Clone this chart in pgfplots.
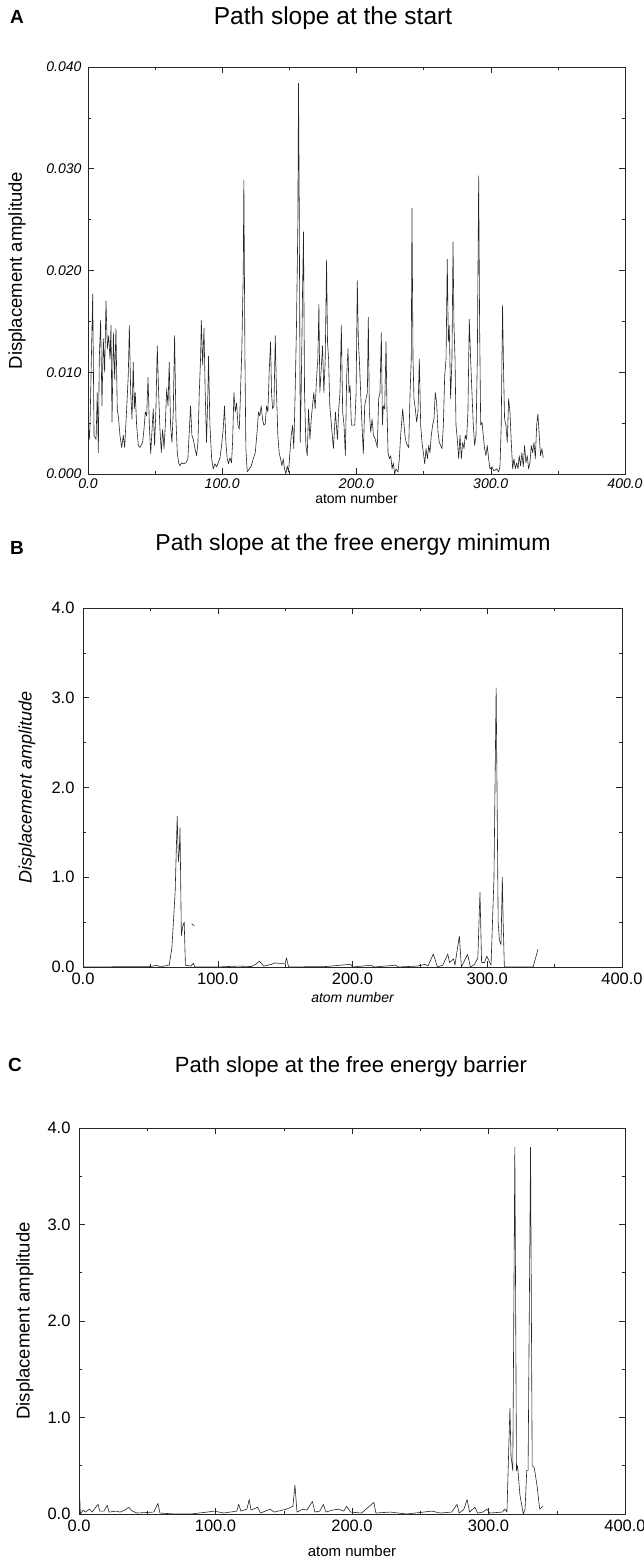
\documentclass[border=0pt]{standalone}
\usepackage{fontspec}
\setmainfont{Liberation Sans}
\usepackage{pgfplots}
\pgfplotsset{compat=1.18}
\pgfplotsset{
  panel/.style={
    scale only axis, anchor=south west,
    xmin=0, xmax=400, xtick={0,100,200,300,400}, minor x tick num=1,
    minor y tick num=1,
    axis line style={black!85, line width=0.6pt},
    every tick/.style={black!85, line width=0.5pt},
    major tick length=6pt, minor tick length=3pt,
    /pgf/number format/assume math mode=true,
    scaled y ticks=false, scaled x ticks=false,
    xticklabel style={/pgf/number format/.cd, fixed, fixed zerofill, precision=1, 1000 sep={}},
  },
  trace/.style={black!85, line width=0.6pt, mark=none, line join=round},
}
\begin{document}
\begin{tikzpicture}
\path[use as bounding box] (0pt,0pt) rectangle (644pt,1562pt);
% ---------------- Panel A ----------------
\node[font=\bfseries\fontsize{19}{19}\selectfont] at (17pt,1545pt) {A};
\node[font=\fontsize{24.5}{24.5}\selectfont] at (333pt,1544pt) {Path slope at the start};
\begin{axis}[panel, at={(88pt,1088pt)}, width=537pt, height=407pt,
  ymin=0, ymax=0.04, ytick={0,0.01,0.02,0.03,0.04},
  yticklabel style={/pgf/number format/.cd, fixed, fixed zerofill, precision=3},
  ticklabel style={font=\fontsize{14}{14}\selectfont\itshape},
  yticklabel style={/tikz/xshift=-3pt}, xticklabel style={/tikz/yshift=-1pt},
  xlabel={atom number}, ylabel={Displacement amplitude},
  xlabel style={font=\fontsize{14}{14}\selectfont, at={(axis description cs:0.5,-0.061)}, anchor=center},
  ylabel style={font=\fontsize{18.5}{18.5}\selectfont, at={(axis description cs:-0.132,0.5)}, anchor=center},
]
\addplot[trace] coordinates {
(0,0.0052)(1,0.0034)(1.5,0.0048)(3.5,0.0177)(4.5,0.0038)(6.0,0.0034)(6.9,0.0080)(7.7,0.0021)
(8.4,0.0113)(9.4,0.0151)(10.4,0.0067)(11.4,0.0133)(12.4,0.0100)(13.4,0.0170)(14.4,0.0123)
(15.4,0.0136)(16.4,0.0113)(17.1,0.0146)(17.9,0.0051)(18.9,0.0139)(19.9,0.0093)(20.8,0.0143)
(21.8,0.0064)(22.8,0.0054)(23.8,0.0038)(25.1,0.0026)(26.3,0.0038)(27.3,0.0026)(28.8,0.0064)
(30.0,0.0097)(30.8,0.0146)(31.8,0.0080)(32.8,0.0054)(33.7,0.0110)(34.5,0.0064)(35.2,0.0080)
(36.2,0.0048)(37.5,0.0028)(38.7,0.0026)(40.7,0.0031)(41.7,0.0044)(42.7,0.0061)(43.7,0.0057)
(44.7,0.0095)(45.7,0.0048)(46.7,0.0020)(47.6,0.0041)(48.6,0.0064)(49.6,0.0028)(50.6,0.0064)
(51.6,0.0126)(52.6,0.0080)(53.6,0.0044)(54.6,0.0021)(55.6,0.0044)(56.6,0.0025)(57.6,0.0048)
(58.6,0.0084)(59.6,0.0067)(60.5,0.0110)(61.5,0.0048)(62.5,0.0031)(63.5,0.0061)(64.5,0.0136)
(65.5,0.0054)(66.5,0.0021)(67.5,0.0011)(68.5,0.0008)(69.7,0.0011)(71.0,0.0010)(73.0,0.0011)
(74.4,0.0015)(75.4,0.0041)(76.4,0.0067)(77.4,0.0038)(78.4,0.0034)(79.7,0.0025)(80.9,0.0018)
(81.9,0.0031)(82.9,0.0080)(83.9,0.0116)(84.4,0.0151)(85.4,0.0107)(86.4,0.0143)(87.3,0.0080)
(88.3,0.0031)(89.3,0.0080)(89.8,0.0116)(90.8,0.0048)(92.1,0.0015)(93.3,0.0005)(94.5,0.0010)
(95.8,0.0007)(97.0,0.0011)(98.3,0.0016)(99.5,0.0028)(100.7,0.0044)(101.7,0.0067)(102.7,0.0031)
(103.7,0.0015)(104.7,0.0010)(105.7,0.0016)(106.9,0.0011)(107.7,0.0031)(108.7,0.0080)(109.7,0.0061)
(110.7,0.0070)(111.7,0.0048)(112.7,0.0044)(113.6,0.0080)(114.6,0.0123)(115.6,0.0195)(116.1,0.0289)
(116.9,0.0113)(117.6,0.0025)(118.6,0.0002)(120.1,0.0005)(121.6,0.0008)(123.1,0.0015)(124.6,0.0021)
(126.1,0.0044)(127.0,0.0061)(128.0,0.0057)(129.0,0.0067)(130.0,0.0054)(131.0,0.0048)(132.0,0.0049)
(133.0,0.0067)(134.0,0.0061)(135.0,0.0102)(136.0,0.0130)(136.7,0.0080)(137.5,0.0064)(138.5,0.0067)
(139.5,0.0136)(140.4,0.0080)(141.4,0.0038)(142.4,0.0021)(143.4,0.0015)(144.4,0.0008)(145.4,0.0015)
(146.4,0.0005)(147.4,0.0000)(148.4,0.0008)(149.4,0.0002)(150.4,0.0021)(151.4,0.0038)(152.4,0.0048)
(153.3,0.0025)(154.3,0.0080)(155.3,0.0146)(156.3,0.0244)(156.8,0.0384)(157.3,0.0277)(158.1,0.0031)
(158.8,0.0080)(159.8,0.0179)(160.5,0.0238)(161.3,0.0080)(162.3,0.0028)(163.3,0.0018)(164.3,0.0064)
(165.3,0.0034)(166.3,0.0054)(167.2,0.0067)(168.2,0.0080)(169.2,0.0064)(170.2,0.0093)(171.2,0.0113)
(172.0,0.0167)(172.7,0.0080)(173.7,0.0103)(174.7,0.0126)(175.7,0.0080)(176.7,0.0113)(177.7,0.0210)
(178.4,0.0130)(179.2,0.0113)(180.1,0.0067)(182.8,0.0025)(184.3,0.0061)(185.8,0.0034)(186.8,0.0064)
(187.7,0.0080)(188.7,0.0146)(189.7,0.0061)(190.7,0.0048)(191.7,0.0018)(192.7,0.0097)(193.7,0.0123)
(194.4,0.0080)(195.2,0.0087)(196.2,0.0048)(197.7,0.0048)(198.7,0.0048)(199.7,0.0080)(200.6,0.0190)
(201.4,0.0130)(202.1,0.0113)(203.1,0.0080)(204.1,0.0048)(205.1,0.0020)(206.1,0.0067)(207.1,0.0074)
(208.1,0.0080)(208.8,0.0154)(209.6,0.0061)(210.6,0.0041)(211.6,0.0054)(212.6,0.0038)(214.0,0.0034)
(215.5,0.0026)(216.5,0.0074)(217.5,0.0080)(218.5,0.0139)(219.3,0.0048)(220.0,0.0067)(221.0,0.0064)
(222.0,0.0130)(222.7,0.0064)(223.5,0.0021)(224.5,0.0015)(225.5,0.0018)(226.5,0.0005)(227.4,0.0011)
(228.4,0.0000)(229.4,0.0005)(230.9,0.0002)(231.9,0.0015)(232.9,0.0038)(234.4,0.0064)(235.4,0.0048)
(236.4,0.0034)(237.9,0.0028)(238.9,0.0026)(239.9,0.0080)(240.8,0.0113)(241.3,0.0261)(242.1,0.0113)
(242.8,0.0074)(243.8,0.0064)(244.8,0.0051)(245.8,0.0061)(246.8,0.0113)(247.8,0.0048)(248.8,0.0031)
(249.8,0.0021)(250.8,0.0010)(251.8,0.0025)(252.8,0.0015)(253.8,0.0028)(254.7,0.0021)(255.7,0.0038)
(256.7,0.0048)(257.7,0.0054)(258.7,0.0080)(259.7,0.0070)(260.7,0.0041)(261.7,0.0031)(262.7,0.0028)
(263.7,0.0025)(264.7,0.0048)(265.7,0.0097)(266.7,0.0113)(267.6,0.0211)(268.4,0.0130)(269.1,0.0146)
(270.1,0.0074)(271.1,0.0113)(271.9,0.0228)(272.6,0.0146)(273.4,0.0113)(274.1,0.0048)(275.1,0.0034)
(276.1,0.0015)(277.1,0.0038)(278.1,0.0015)(279.1,0.0031)(280.1,0.0025)(281.0,0.0038)(282.0,0.0034)
(283.0,0.0061)(284.0,0.0152)(285.0,0.0113)(286.0,0.0080)(287.0,0.0048)(288.0,0.0028)(289.0,0.0038)
(290.0,0.0113)(291.0,0.0293)(291.7,0.0146)(292.5,0.0048)(293.5,0.0051)(294.4,0.0038)(295.4,0.0025)
(296.4,0.0018)(297.4,0.0028)(298.4,0.0015)(299.4,0.0005)(300.9,0.0007)(302.4,0.0003)(304.4,0.0005)
(305.9,0.0002)(306.9,0.0008)(307.8,0.0048)(308.8,0.0166)(309.6,0.0097)(310.3,0.0054)(311.3,0.0048)
(312.3,0.0031)(313.3,0.0074)(314.3,0.0061)(315.3,0.0031)(316.3,0.0005)(317.3,0.0015)(318.3,0.0005)
(319.3,0.0011)(320.3,0.0005)(321.2,0.0018)(322.2,0.0008)(323.2,0.0021)(324.2,0.0007)(325.2,0.0028)
(326.2,0.0011)(327.2,0.0018)(328.2,0.0005)(329.2,0.0011)(330.2,0.0028)(331.2,0.0021)(332.2,0.0031)
(333.2,0.0015)(334.2,0.0048)(335.1,0.0059)(336.1,0.0038)(337.1,0.0018)(338.1,0.0025)(339.1,0.0016)
};
\end{axis}
% ---------------- Panel B ----------------
\node[font=\bfseries\fontsize{19}{19}\selectfont] at (17pt,1014pt) {B};
\node[font=\fontsize{23}{23}\selectfont] at (353pt,1017pt) {Path slope at the free energy minimum};
\begin{axis}[panel, at={(83pt,595pt)}, width=539pt, height=359pt,
  ymin=0, ymax=4, ytick={0,1,2,3,4},
  yticklabel style={/pgf/number format/.cd, fixed, fixed zerofill, precision=1},
  ticklabel style={font=\fontsize{16.5}{16.5}\selectfont},
  yticklabel style={/tikz/xshift=-5pt}, xticklabel style={/tikz/yshift=-2pt},
  xlabel={atom number}, ylabel={Displacement amplitude},
  xlabel style={font=\fontsize{14}{14}\selectfont\itshape, at={(axis description cs:0.5,-0.084)}, anchor=center},
  ylabel style={font=\fontsize{18}{18}\selectfont\itshape, at={(axis description cs:-0.104,0.5)}, anchor=center},
]
\addplot[trace] coordinates {
(0,0)(50,0.005)(55,0.02)(57,0.0)(60,0.01)(64,0.02)(66,0.22)(68.4,0.84)(69.9,1.68)(70.8,1.17)
(71.5,1.30)(72,1.55)(73,0.35)(74,0.45)(75.1,0.5)(76,0.02)(80,0.01)(82,0.04)(83,0.0)(100,0.0)
(115,0.01)(125,0.005)(128,0.03)(131,0.065)(134,0.01)(140,0.03)(142,0.045)(146,0.04)(150,0.04)
(151,0.1)(152.6,0.0)(180,0.005)(198.6,0.03)(200,0.0)(214,0.02)(216,0.0)(232,0.02)(234,0.0)
(248,0.01)(254,0.03)(256,0.01)(260,0.145)(263,0.0)(267,0.02)(270.7,0.145)(272,0.05)(275,0.09)
(276,0.02)(279.3,0.345)(280.8,0.0)(285.4,0.14)(287.5,0.0)(290.6,0.03)(293,0.1)(294.6,0.83)
(295.8,0.05)(298,0.05)(299.7,0.12)(302.8,0.02)(305,1.0)(306.6,3.11)(308.1,0.5)(309,0.3)
(310.2,0.25)(311.2,1.0)(311.8,0.5)(312.7,0.0)(334,0.0)(337.7,0.2)
};
\addplot[trace] coordinates {(80.6,0.48)(82.6,0.46)};
\end{axis}
% ---------------- Panel C ----------------
\node[font=\bfseries\fontsize{19}{19}\selectfont] at (15pt,497pt) {C};
\node[font=\fontsize{22}{22}\selectfont] at (351pt,495pt) {Path slope at the free energy barrier};
\begin{axis}[panel, at={(79pt,48pt)}, width=546pt, height=386pt,
  ymin=0, ymax=4, ytick={0,1,2,3,4},
  yticklabel style={/pgf/number format/.cd, fixed, fixed zerofill, precision=1},
  ticklabel style={font=\fontsize{16.5}{16.5}\selectfont},
  yticklabel style={/tikz/xshift=-5pt}, xticklabel style={/tikz/yshift=-2pt},
  xlabel={atom number}, ylabel={Displacement amplitude},
  xlabel style={font=\fontsize{15}{15}\selectfont, at={(axis description cs:0.5,-0.096)}, anchor=center},
  ylabel style={font=\fontsize{18.5}{18.5}\selectfont, at={(axis description cs:-0.099,0.5)}, anchor=center},
]
\addplot[trace] coordinates {
(0,0.26)(0.7,0.12)(1,0.0)(3,0.04)(4.6,0.02)(7.6,0.05)(9.7,0.02)(12.8,0.08)(14,0.1)(15.2,0.03)
(18.3,0.03)(20.7,0.09)(22,0.02)(27.4,0.03)(30,0.02)(33.5,0.04)(36.5,0.07)(39,0.03)(42.6,0.01)
(54.8,0.02)(57.8,0.11)(59.3,0.01)(70,0.0)(82,0.0)(94,0.02)(99,0.03)(106,0.01)(115.6,0.03)
(117,0.1)(118.6,0.03)(123,0.05)(124.7,0.15)(126,0.04)(130.8,0.07)(133,0.01)(140,0.05)(143,0.02)
(152,0.05)(156.7,0.08)(158.2,0.3)(159.7,0.02)(164,0.05)(167,0.04)(171,0.13)(172.8,0.02)
(176.4,0.03)(179,0.1)(181,0.02)(185.5,0.04)(190,0.05)(194,0.03)(196,0.08)(199,0.02)(207,0.01)
(216,0.12)(217.5,0.01)(228,0.02)(240,0.0)(252.5,0.02)(258.5,0.03)(264.6,0.01)(273,0.02)
(277,0.1)(278.5,0.01)(282,0.05)(284.3,0.15)(286.2,0.02)(290,0.07)(292,0.01)(296,0.02)
(298.8,0.05)(301,0.01)(310,0.02)(312,0.05)(313.5,0.02)(315.7,1.1)(316.5,0.6)(317.8,0.45)(319.3,3.8)
(320.5,0.45)(321.3,0.5)(323,0.2)(325.5,0.0)(326.8,0.05)(328,0.45)(329,0.45)(330.8,3.8)
(332,0.5)(333.5,0.48)(335.5,0.3)(337.5,0.05)(339.8,0.08)
};
\end{axis}
\end{tikzpicture}
\end{document}
